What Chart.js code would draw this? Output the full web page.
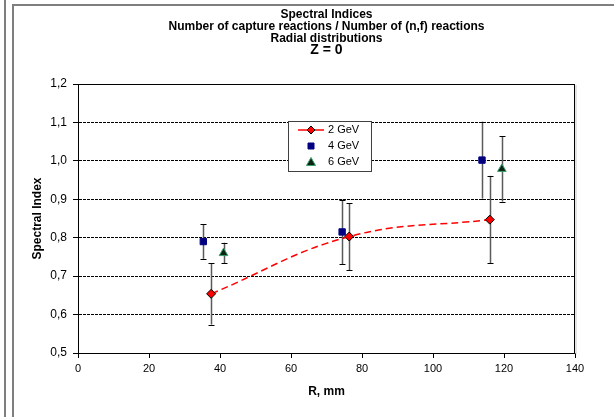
<!DOCTYPE html>
<html>
<head>
<meta charset="utf-8">
<script src="https://cdn.jsdelivr.net/npm/chart.js@4.4.0/dist/chart.umd.min.js"></script>
<style>
  html, body { margin: 0; padding: 0; background: #fff; }
  #wrap { position: relative; width: 614px; height: 417px; overflow: hidden; background: #fff; }
  #chart { position: absolute; left: 0; top: 0; }
  .line1 { position: absolute; left: 4px; top: 0; width: 2px; height: 417px; background: #7f7f7f; }
  .frame { position: absolute; left: 12px; top: 4px; width: 700px; height: 500px;
           border-left: 2px solid #7f7f7f; border-top: 2px solid #7f7f7f; }
</style>
</head>
<body>
<div id="wrap">
  <div class="line1"></div>
  <div class="frame"></div>
  <canvas id="chart" width="614" height="417"></canvas>
</div>
<script>
// judul grafik
const titleLines = ['Spectral Indices', 'Number of capture reactions / Number of (n,f) reactions', 'Radial distributions'];
const subTitle = 'Z = 0';

// data: R (mm), spectral index, error
const r2GeV = [37.5, 76.4, 116.0];
const si2GeV = [0.654, 0.803, 0.847];
const err2GeV = [0.080, 0.087, 0.114];

const r4GeV = [35.3, 74.4, 113.8];
const si4GeV = [0.790, 0.815, 1.002];
const err4GeV = [0.045, 0.084, 0.100];

const r6GeV = [41.0, 119.4];
const si6GeV = [0.760, 0.979];
const err6GeV = [0.027, 0.085];

const seriesNames = ['2 GeV', '4 GeV', '6 GeV'];

const xTickValues = [0, 20, 40, 60, 80, 100, 120, 140];
const yTickValues = [0.5, 0.6, 0.7, 0.8, 0.9, 1.0, 1.1, 1.2];
const yTickLabels = ['0,5', '0,6', '0,7', '0,8', '0,9', '1,0', '1,1', '1,2'];

const FONT = "'Liberation Sans', Arial, sans-serif";

function toPoints(xs, ys, es) {
    return xs.map((x, i) => ({ x: x, y: ys[i], e: es[i] }));
}

// gambar marker sendiri (untuk legenda)
function drawMarker(ctx, type, x, y, fill, stroke) {
    ctx.save();
    ctx.beginPath();
    if (type === 'diamond') {
        ctx.moveTo(x, y - 4); ctx.lineTo(x + 4, y); ctx.lineTo(x, y + 4); ctx.lineTo(x - 4, y); ctx.closePath();
    } else if (type === 'square') {
        ctx.rect(x - 3, y - 3, 6, 6);
    } else {
        ctx.moveTo(x, y - 4.5); ctx.lineTo(x + 4.5, y + 3.5); ctx.lineTo(x - 4.5, y + 3.5); ctx.closePath();
    }
    ctx.fillStyle = fill;
    ctx.fill();
    ctx.lineWidth = 1;
    ctx.strokeStyle = stroke;
    ctx.stroke();
    ctx.restore();
}

// error bar + bingkai plot
const errorBarPlugin = {
    id: 'errorBars',
    beforeDatasetsDraw(chart) {
        const { ctx, chartArea: a, scales: { x, y } } = chart;
        ctx.save();
        ctx.strokeStyle = '#000';
        ctx.lineWidth = 1;
        ctx.strokeRect(a.left + 0.5, a.top + 0.5, a.right - a.left - 1, a.bottom - a.top);
        // bayangan tipis di kanan
        ctx.strokeStyle = '#c8c8c8';
        ctx.beginPath();
        ctx.moveTo(a.right + 1, a.top + 1);
        ctx.lineTo(a.right + 1, a.bottom + 1);
        ctx.stroke();

        chart.data.datasets.forEach((ds, di) => {
            if (!ds.errorBars) return;
            ds.data.forEach(p => {
                const px = Math.round(x.getPixelForValue(p.x)) + 0.5;
                const top = y.getPixelForValue(p.y + p.e);
                const bot = y.getPixelForValue(p.y - p.e);
                ctx.strokeStyle = '#5a5a5a';
                ctx.lineWidth = 1.5;
                ctx.beginPath();
                ctx.moveTo(px, top);
                ctx.lineTo(px, bot);
                ctx.stroke();
                ctx.strokeStyle = '#000';
                ctx.lineWidth = 1;
                ctx.beginPath();
                ctx.moveTo(px - 3, Math.round(top) + 0.5);
                ctx.lineTo(px + 3, Math.round(top) + 0.5);
                ctx.moveTo(px - 3, Math.round(bot) + 0.5);
                ctx.lineTo(px + 3, Math.round(bot) + 0.5);
                ctx.stroke();
            });
        });
        ctx.restore();
    },
    afterDraw(chart) {
        const ctx = chart.ctx;
        // legenda di dalam area plot
        const bx = 288, by = 121, bw = 83, bh = 50;
        ctx.save();
        ctx.fillStyle = '#fff';
        ctx.fillRect(bx, by, bw, bh);
        ctx.strokeStyle = '#404040';
        ctx.lineWidth = 1;
        ctx.strokeRect(bx + 0.5, by + 0.5, bw, bh);

        ctx.font = '11px ' + FONT;
        ctx.fillStyle = '#000';
        ctx.textBaseline = 'middle';
        const rows = [by + 9, by + 25, by + 41];

        ctx.strokeStyle = '#ff0000';
        ctx.lineWidth = 1.5;
        ctx.beginPath();
        ctx.moveTo(bx + 10, rows[0]);
        ctx.lineTo(bx + 36, rows[0]);
        ctx.stroke();
        drawMarker(ctx, 'diamond', bx + 23, rows[0], '#ff0000', '#000');
        drawMarker(ctx, 'square', bx + 23, rows[1], '#000080', '#000080');
        drawMarker(ctx, 'triangle', bx + 23, rows[2], '#0a2414', '#3c9e6c');

        seriesNames.forEach((n, i) => ctx.fillText(n, bx + 40, rows[i]));
        ctx.restore();
    }
};

const ctx = document.getElementById('chart').getContext('2d');
const myChart = new Chart(ctx, {
    type: 'scatter',
    data: {
        datasets: [
            {
                label: seriesNames[0],
                data: toPoints(r2GeV, si2GeV, err2GeV),
                showLine: true,
                borderColor: '#ff0000',
                borderWidth: 1.5,
                borderDash: [7, 4],
                tension: 0.4,
                pointStyle: 'rectRot',
                pointRadius: 4.5,
                pointBackgroundColor: '#ff0000',
                pointBorderColor: '#000',
                pointBorderWidth: 1,
                errorBars: true
            },
            {
                label: seriesNames[1],
                data: toPoints(r4GeV, si4GeV, err4GeV),
                pointStyle: 'rect',
                pointRadius: 4.5,
                pointBackgroundColor: '#000080',
                pointBorderColor: '#000080',
                pointBorderWidth: 1,
                errorBars: true
            },
            {
                label: seriesNames[2],
                data: toPoints(r6GeV, si6GeV, err6GeV),
                pointStyle: 'triangle',
                pointRadius: 5,
                pointBackgroundColor: '#0a2414',
                pointBorderColor: '#3c9e6c',
                pointBorderWidth: 1,
                errorBars: true
            }
        ]
    },
    options: {
        responsive: false,
        animation: false,
        layout: { padding: { left: 14, right: 39, top: 0, bottom: 0 } },
        plugins: {
            legend: { display: false },
            tooltip: { enabled: false },
            title: {
                display: true,
                fullSize: false,
                text: titleLines,
                color: '#000',
                font: { family: FONT, size: 12, weight: 'bold', lineHeight: 1 },
                padding: { top: 9, bottom: 0 }
            },
            subtitle: {
                display: true,
                fullSize: false,
                text: subTitle,
                color: '#000',
                font: { family: FONT, size: 14, weight: 'bold', lineHeight: 10 / 14 },
                padding: { top: 0, bottom: 29 }
            }
        },
        scales: {
            x: {
                type: 'linear',
                min: 0,
                max: 140,
                afterFit: s => { s.height = 64; },
                afterBuildTicks: s => { s.ticks = xTickValues.map(v => ({ value: v })); },
                grid: { display: true, drawOnChartArea: false, drawTicks: true, tickLength: 5, color: '#000' },
                border: { display: true, color: '#000', width: 1 },
                ticks: { color: '#000', padding: 4, font: { family: FONT, size: 11 }, maxRotation: 0 },
                title: { display: true, text: 'R, mm', color: '#000', font: { family: FONT, size: 12, weight: 'bold' }, padding: { top: 0, bottom: 18 } }
            },
            y: {
                type: 'linear',
                min: 0.5,
                max: 1.2,
                afterFit: s => { s.width = 64; },
                afterBuildTicks: s => { s.ticks = yTickValues.map(v => ({ value: v })); },
                grid: { display: true, drawTicks: true, tickLength: 5, color: '#000', lineWidth: 1 },
                border: { display: true, color: '#000', width: 1, dash: [3, 1] },
                ticks: {
                    color: '#000',
                    padding: 6,
                    font: { family: FONT, size: 12 },
                    callback: (v, i) => yTickLabels[i]
                },
                title: { display: true, text: 'Spectral Index', color: '#000', font: { family: FONT, size: 12, weight: 'bold' }, padding: { top: 16, bottom: 0 } }
            }
        }
    },
    plugins: [errorBarPlugin]
});
</script>
</body>
</html>
